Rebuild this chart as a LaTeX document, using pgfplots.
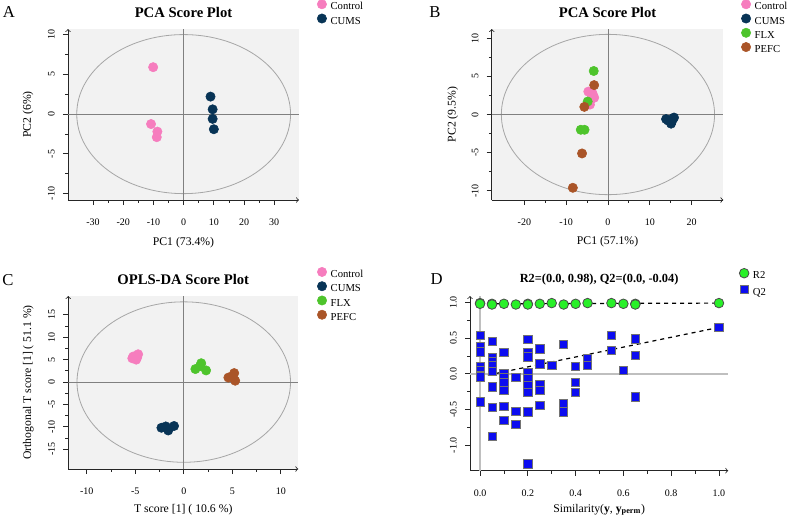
\documentclass[border=0pt]{standalone}
\usepackage{fontspec}
\setmainfont{Liberation Serif}
\usepackage{pgfplots}
\pgfplotsset{compat=1.18}
\definecolor{cpink}{RGB}{246,125,190}
\definecolor{cnavy}{RGB}{8,52,86}
\definecolor{cgreen}{RGB}{78,196,44}
\definecolor{cbrown}{RGB}{170,85,40}
\definecolor{dgreen}{RGB}{40,240,40}
\definecolor{dblue}{RGB}{12,12,240}
\tikzset{
 ell/.style={black!35, line width=0.6pt},
 zl/.style={black!50, line width=0.6pt},
}
\pgfplotsset{
 every axis title shift=0pt,
 myax/.style={
  scale only axis, anchor=south west,
  axis lines=left, axis line style={->, black!85, line width=0.6pt},
  tick align=outside, major tick length=3.75pt, minor tick length=2.2pt,
  tick style={black!85, line width=0.6pt},
  minor tick num=1,
  axis background/.style={fill=black!5},
  ticklabel style={font=\fontsize{7.5}{9}\selectfont},
  yticklabel style={rotate=90, anchor=south, inner sep=2pt},
  xticklabel style={anchor=north, inner sep=2pt},
  xticklabel shift=8.5pt, yticklabel shift=4pt,
  label style={font=\fontsize{8.8}{10}\selectfont},
  title style={font=\fontsize{11}{13}\selectfont\bfseries, at={(axis description cs:0.5,1.098)}, anchor=center},
  legend style={draw=none, fill=none, font=\fontsize{8}{9}\selectfont, anchor=north west,
    inner sep=0pt, outer sep=0pt, row sep=0pt, column sep=3pt,
    nodes={inner sep=0pt, text height=6.5pt, text depth=2.9pt}},
  legend cell align=left,
  legend image code/.code={\draw[##1] plot coordinates {(3.6pt,2.5pt)};},
 },
 sc/.style={only marks, mark=*, mark size=3.5pt, draw=#1, fill=#1, mark options={draw=#1, fill=#1}},
}
\begin{document}
\begin{tikzpicture}
\path[use as bounding box] (0,0) rectangle (591.75pt,-389.25pt);
\node[font=\fontsize{12.5}{14}\selectfont] at (6.75pt,-9pt) {A};
\node[font=\fontsize{12.5}{14}\selectfont] at (326.25pt,-9pt) {B};
\node[font=\fontsize{12.5}{14}\selectfont] at (6pt,-210pt) {C};
\node[font=\fontsize{12.5}{14}\selectfont] at (327.4pt,-209.25pt) {D};

% ---------------- A
\begin{axis}[myax, at={(51pt,-150pt)}, width=173.25pt, height=128.25pt,
 xmin=-38.3, xmax=38.2, ymin=-10.8, ymax=10.7,
 xtick={-30,-20,-10,0,10,20,30}, xticklabels={-30,-20,-10,0,10,20,30},
 ytick={-10,-5,0,5,10}, yticklabels={-10,-5,0,5,10},
 title={PCA Score Plot}, xlabel={PC1 (73.4\%)}, ylabel={PC2 (6\%)},
 xlabel style={at={(axis description cs:0.5,-0.251)}, anchor=center},
 ylabel style={at={(axis description cs:-0.173,0.5)}, anchor=center},
 legend style={at={(axis description cs:1.079,1.172)}},
]
\draw[ell] (axis cs:0,0) ellipse [x radius=35.4, y radius=10];
\addplot[zl, forget plot] coordinates {(0,-10.8) (0,10.7)};
\addplot[zl, forget plot] coordinates {(-38.3,0) (38.2,0)};
\addplot[sc=cpink] coordinates {(-10.1,5.9) (-10.8,-1.25) (-8.7,-2.2) (-8.9,-2.9)};
\addplot[sc=cnavy] coordinates {(8.9,2.2) (9.6,0.6) (9.6,-0.6) (10.0,-1.9)};
\legend{Control,CUMS}
\end{axis}

% ---------------- B
\begin{axis}[myax, at={(368.8pt,-150pt)}, width=173.7pt, height=128.25pt,
 xmin=-27.8, xmax=27.6, ymin=-11.2, ymax=11.2,
 xtick={-20,-10,0,10,20}, xticklabels={-20,-10,0,10,20},
 ytick={-10,-5,0,5,10}, yticklabels={-10,-5,0,5,10},
 title={PCA Score Plot}, xlabel={PC1 (57.1\%)}, ylabel={PC2 (9.5\%)},
 xlabel style={at={(axis description cs:0.5,-0.244)}, anchor=center},
 ylabel style={at={(axis description cs:-0.168,0.5)}, anchor=center},
 legend style={at={(axis description cs:1.078,1.172)}},
]
\draw[ell] (axis cs:0,0) ellipse [x radius=25.5, y radius=10.5];
\addplot[zl, forget plot] coordinates {(0,-11.2) (0,11.2)};
\addplot[zl, forget plot] coordinates {(-27.8,0) (27.6,0)};
\addplot[sc=cpink] coordinates {(-4.7,3.0) (-3.5,2.5) (-4.0,2.0) (-4.3,1.3) (-3.8,2.9) (-3.3,2.2)};
\addplot[sc=cnavy] coordinates {(13.9,-0.6) (15.6,-0.5) (15.1,-1.2) (14.4,-0.8) (15.8,-0.4) (15.3,-0.9)};
\addplot[sc=cgreen] coordinates {(-3.4,5.7) (-4.85,1.7) (-6.5,-2.0) (-5.6,-2.0)};
\addplot[sc=cbrown] coordinates {(-3.3,3.85) (-5.65,1.0) (-6.2,-5.1) (-8.4,-9.6)};
\legend{Control,CUMS,FLX,PEFC}
\end{axis}

% ---------------- C
\begin{axis}[myax, at={(51.2pt,-351.75pt)}, width=172.5pt, height=129.75pt,
 xmin=-11.9, xmax=11.8, ymin=-19.4, ymax=19.2,
 xtick={-10,-5,0,5,10}, xticklabels={-10,-5,0,5,10},
 ytick={-15,-10,-5,0,5,10,15}, yticklabels={-15,-10,-5,0,5,10,15},
 title={OPLS-DA Score Plot}, xlabel={T score [1] ( 10.6 \%)}, ylabel={Orthogonal T score [1] ( 51.1 \%)},
 xlabel style={at={(axis description cs:0.5,-0.237)}, anchor=center},
 ylabel style={at={(axis description cs:-0.174,0.5)}, anchor=center},
 legend style={at={(axis description cs:1.083,1.166)}},
]
\draw[ell] (axis cs:0,0) ellipse [x radius=11, y radius=17.9];
\addplot[zl, forget plot] coordinates {(0,-19.4) (0,19.2)};
\addplot[zl, forget plot] coordinates {(-11.9,0) (11.8,0)};
\addplot[sc=cpink] coordinates {(-5.2,5.7) (-4.7,6.2) (-4.9,5.0) (-5.3,5.3) (-4.8,5.5)};
\addplot[sc=cnavy] coordinates {(-2.3,-10.2) (-1.6,-10.8) (-1.0,-9.8) (-1.85,-9.9)};
\addplot[sc=cgreen] coordinates {(1.2,2.9) (1.8,4.2) (2.3,2.6) (1.7,3.6)};
\addplot[sc=cbrown] coordinates {(4.6,1.0) (5.2,2.0) (5.3,0.3) (4.9,1.2)};
\legend{Control,CUMS,FLX,PEFC}
\end{axis}

% ---------------- D
\begin{axis}[myax, at={(352.5pt,-353pt)}, width=193.7pt, height=131pt,
 axis background/.style={},
 xmin=-0.042, xmax=1.039, ymin=-1.354, ymax=1.089,
 xtick={0,0.2,0.4,0.6,0.8,1.0}, xticklabels={0.0,0.2,0.4,0.6,0.8,1.0},
 ytick={-1,-0.5,0,0.5,1}, yticklabels={-1.0,-0.5,0.0,0.5,1.0},
 title={R2=(0.0, 0.98), Q2=(0.0, -0.04)},
 title style={font=\fontsize{9.3}{11}\selectfont\bfseries, at={(axis description cs:0.5,1.097)}},
 xlabel={Similarity(\textbf{y}, \textbf{y}\textsubscript{\textbf{perm}})},
 xlabel style={at={(axis description cs:0.5,-0.225)}, anchor=center},
 legend style={at={(axis description cs:1.043,1.158)}, row sep=1.8pt},
]
\addplot[black!25, line width=1.1pt, forget plot] coordinates {(0,-1.354) (0,1.089)};
\addplot[black!25, line width=1.1pt, forget plot] coordinates {(-0.042,0) (1.039,0)};
\addplot[only marks, mark=*, mark size=3.6pt, mark options={fill=dgreen, draw=black!70, line width=0.6pt}] coordinates {
 (-0.05,0.99) (0,0.99) (0,0.98) (0.05,0.98) (0.05,0.97) (0.1,0.98) (0.15,0.97) (0.2,0.98) (0.2,0.97)
 (0.25,0.98) (0.3,0.99) (0.35,0.97) (0.4,0.98) (0.45,0.99) (0.55,0.99) (0.6,0.98) (0.65,0.98) (0.65,0.97) (1.0,0.99)};
\addplot[only marks, mark=square*, mark size=3.1pt, mark options={fill=dblue, draw=black!55, line width=0.5pt}] coordinates {
 (-0.055,0.38) (-0.055,0.21) (-0.055,0.08) (-0.055,-0.06) (-0.055,-0.17)
 (0,0.54) (0,0.39) (0,0.31) (0,0.10) (0,0.05) (0,-0.02) (0,-0.04) (0,-0.39)
 (0.05,0.45) (0.05,0.23) (0.05,0.18) (0.05,0.12) (0.05,0.04) (0.05,-0.18) (0.05,-0.47) (0.05,-0.87)
 (0.1,0.30) (0.1,0.01) (0.1,-0.05) (0.1,-0.12) (0.1,-0.23) (0.1,-0.45) (0.1,-0.65)
 (0.15,-0.05) (0.15,-0.52) (0.15,-0.71)
 (0.2,0.48) (0.2,0.30) (0.2,0.24) (0.2,0.02) (0.2,-0.07) (0.2,-0.16) (0.2,-0.26) (0.2,-0.53) (0.2,-1.26)
 (0.25,0.35) (0.25,0.14) (0.25,-0.15) (0.25,-0.23) (0.25,-0.44)
 (0.3,0.12)
 (0.35,0.41) (0.35,-0.42) (0.35,-0.53)
 (0.4,0.11) (0.4,-0.12) (0.4,-0.26)
 (0.45,0.21) (0.45,0.12)
 (0.55,0.54) (0.55,0.33)
 (0.6,0.05)
 (0.65,0.49) (0.65,0.26) (0.65,-0.32)
 (1.0,0.65)};
\addplot[black, dashed, line width=0.9pt, forget plot] coordinates {(0,0.98) (1,0.99)};
\addplot[black, dashed, line width=0.9pt, forget plot] coordinates {(0,-0.04) (1,0.65)};
\legend{R2,Q2}
\end{axis}
\end{tikzpicture}
\end{document}
